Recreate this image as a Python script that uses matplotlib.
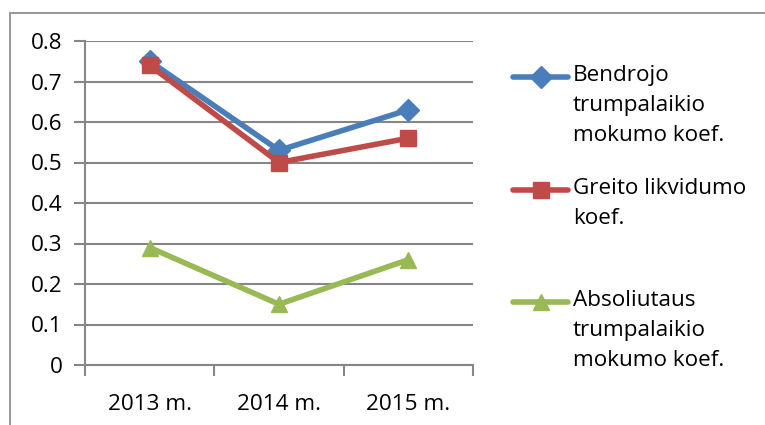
import matplotlib
matplotlib.use("Agg")
import matplotlib.pyplot as plt
from matplotlib.lines import Line2D
from matplotlib.patches import Rectangle

plt.rcParams['font.family'] = ['Open Sans', 'DejaVu Sans']

metai = ["2013 m.", "2014 m.", "2015 m."]
bendrojo = [0.75, 0.53, 0.63]
greito = [0.74, 0.50, 0.56]
absoliutaus = [0.29, 0.15, 0.26]

serijos = [
    ("Bendrojo\ntrumpalaikio\nmokumo koef.", bendrojo, "#4A7EBB", "D", 11),
    ("Greito likvidumo\nkoef.", greito, "#BE4B48", "s", 11),
    ("Absoliutaus\ntrumpalaikio\nmokumo koef.", absoliutaus, "#98B954", "^", 12),
]

W, H = 765, 425
fig = plt.figure(figsize=(W / 100, H / 100), dpi=100)
ax = fig.add_axes([85 / W, 1 - 365 / H, (473 - 85) / W, (365 - 41) / H])

# outer chart frame (cut off on right and bottom)
fig.add_artist(Rectangle((9.5 / W, -0.1), 2, 1 - 12.5 / H + 0.1, transform=fig.transFigure,
                         fill=False, edgecolor="#868686", linewidth=1.2))

x = [0.5, 1.5, 2.5]
for label, vals, col, mk, ms in serijos:
    ax.plot(x, vals, color=col, linewidth=4, marker=mk, markersize=ms,
            markeredgecolor=col, solid_joinstyle="miter", zorder=3)

fs = 16.2
ax.set_xlim(0, 3)
ax.set_ylim(0, 0.8)
ax.set_yticks([0, 0.1, 0.2, 0.3, 0.4, 0.5, 0.6, 0.7, 0.8])
ax.set_yticklabels(["0", "0.1", "0.2", "0.3", "0.4", "0.5", "0.6", "0.7", "0.8"])
ax.set_xticks([0, 1, 2, 3])
ax.set_xticklabels([])
ax.set_xticks(x, minor=True)
ax.set_xticklabels(metai, minor=True)
ax.tick_params(axis="x", which="minor", length=0, pad=21, labelsize=fs)
ax.tick_params(axis="x", which="major", length=8, width=1.5, color="#868686")
ax.tick_params(axis="y", length=8, width=1.5, color="#868686", pad=8, labelsize=fs)
ax.grid(axis="y", color="#868686", linewidth=1.5)
ax.set_axisbelow(True)
for s in ["top", "right"]:
    ax.spines[s].set_visible(False)
for s in ["left", "bottom"]:
    ax.spines[s].set_color("#868686")
    ax.spines[s].set_linewidth(1.5)

# legend, drawn Excel-style with handle at first text line
leg_y = [77, 190, 302]
for (label, vals, col, mk, ms), yy in zip(serijos, leg_y):
    yf = 1 - yy / H
    fig.add_artist(Line2D([513 / W, 568 / W], [yf, yf], transform=fig.transFigure,
                          color=col, linewidth=4, solid_capstyle="round"))
    fig.add_artist(Line2D([540.5 / W], [yf], transform=fig.transFigure,
                          marker=mk, markersize=ms, color=col, linestyle="none"))
    fig.text(573 / W, 1 - (yy - 12) / H, label, fontsize=fs, va="top", ha="left",
             linespacing=1.55)

fig.savefig("out.png", dpi=100)
